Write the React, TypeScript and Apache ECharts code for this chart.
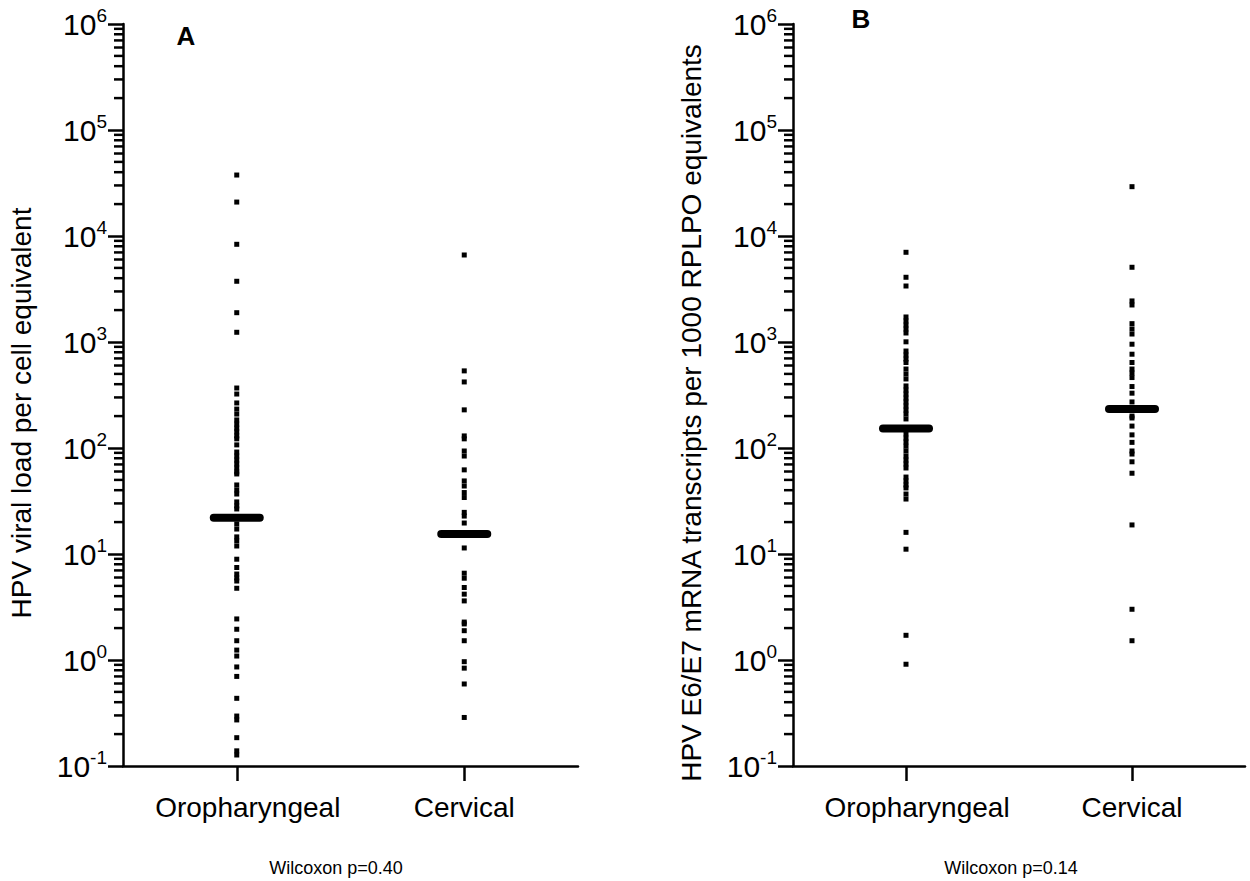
import React, { useEffect, useRef } from "react";
import * as echarts from "echarts";

const categories = ["Oropharyngeal", "Cervical"];

// Panel A: HPV viral load per cell equivalent
const viralLoadOropharyngeal = [37600, 20900, 8350, 3740, 1890, 1235, 368, 323, 266, 233, 209, 184, 168, 154, 142, 130, 122, 107, 91.6, 84, 77, 70.7, 64.8, 59.4, 56.9, 44.8, 40.2, 36.8, 31, 28.4, 26.6, 22, 19.2, 17.2, 14.5, 13.3, 11.9, 8.93, 7.46, 6.47, 5.94, 5.56, 4.75, 2.44, 1.95, 1.52, 1.24, 1.09, 0.86, 0.7, 0.435, 0.296, 0.272, 0.185, 0.139, 0.127];
const viralLoadCervical = [6620, 534, 420, 229, 130, 122, 93.7, 84, 62.2, 48.9, 43.8, 38, 34.1, 24.7, 22.8, 19.6, 15.4, 11.4, 6.59, 5.91, 4.83, 4.18, 3.61, 2.28, 2.19, 1.89, 1.52, 0.964, 0.838, 0.594, 0.287];
const viralLoadMedians = [22.0, 15.4];

// Panel B: HPV E6/E7 mRNA transcripts per 1000 RPLPO equivalents
const mrnaOropharyngeal = [7020, 4080, 3375, 1722, 1578, 1446, 1327, 1216, 1004, 822, 754, 691, 641, 556, 499, 448, 385, 352, 323, 296, 272, 249, 228, 209, 188, 153, 136, 124, 114, 104, 93.7, 84, 77, 70.7, 64.8, 53.2, 48.9, 44.8, 42, 36.8, 33, 16, 11.1, 1.71, 0.912];
const mrnaCervical = [29200, 5070, 2440, 2235, 1490, 1327, 1189, 953, 767, 641, 556, 510, 462, 380, 329, 272, 233, 200, 192, 161, 133, 113, 93.7, 87.7, 74.1, 57.8, 18.8, 3.01, 1.52];
const mrnaMedians = [153, 233];

const yMin = 0.1;
const yMax = 1e6;
const minorTickValues: number[] = [];
for (let k = -1; k <= 5; k++) {
  for (let m = 2; m <= 9; m++) minorTickValues.push(m * Math.pow(10, k));
}

const panelLabels = ["A", "B"];
const yTitles = ["HPV viral load per cell equivalent", "HPV E6/E7 mRNA transcripts per 1000 RPLPO equivalents"];
const footnotes = ["Wilcoxon p=0.40", "Wilcoxon p=0.14"];

const FONT = "Liberation Sans, Arial, sans-serif";

export default function App() {
  const ref = useRef<HTMLDivElement>(null);
  useEffect(() => {
    if (!ref.current) return;
    const chart = echarts.init(ref.current, undefined, { renderer: "svg" });
    const grids = [
      { left: 123, top: 24, width: 455, height: 742 },
      { left: 793, top: 24, width: 452, height: 742 },
    ];
    const xAxis = [0, 1].map((i) => ({
      type: "category",
      gridIndex: i,
      data: categories,
      boundaryGap: true,
      axisLine: { show: true, lineStyle: { color: "#000", width: 2.5 } },
      axisTick: { show: true, alignWithLabel: true, interval: 0, inside: false, length: 15, lineStyle: { color: "#000", width: 2.5 } },
      axisLabel: {
        interval: 0,
        margin: 27,
        color: "#000",
        fontSize: 28,
        fontFamily: FONT,
        formatter: (v: string) => (v === "Oropharyngeal" ? "{o|" + v + "}" : "{c|" + v + "}"),
        rich: {
          o: { fontSize: 28, fontFamily: FONT, color: "#000", padding: [0, 0, 0, 22] },
          c: { fontSize: 28, fontFamily: FONT, color: "#000" },
        },
      },
      splitLine: { show: false },
    }));
    const yAxis = [0, 1].map((i) => ({
      type: "log",
      logBase: 10,
      gridIndex: i,
      min: yMin,
      max: yMax,
      splitNumber: 7,
      axisLine: { show: true, lineStyle: { color: "#000", width: 2.5 } },
      axisTick: { show: true, inside: false, length: 15, lineStyle: { color: "#000", width: 2.5 } },
      axisLabel: {
        margin: 16,
        formatter: (v: number) => "{b|10}{s|" + Math.round(Math.log10(v)) + "}",
        rich: {
          b: { fontSize: 30, fontFamily: FONT, color: "#000", lineHeight: 36 },
          s: { fontSize: 19, fontFamily: FONT, color: "#000", lineHeight: 19, verticalAlign: "top" },
        },
      },
      splitLine: { show: false },
    }));

    const minorSeries = [0, 1].map((i) => ({
      type: "custom",
      xAxisIndex: i,
      yAxisIndex: i,
      silent: true,
      data: minorTickValues.map((v) => [0, v]),
      encode: { x: 0, y: 1 },
      renderItem: (params: any, api: any) => {
        const y = api.coord([0, api.value(1)])[1];
        const x0 = params.coordSys.x;
        return {
          type: "line",
          shape: { x1: x0 - 9, y1: y, x2: x0, y2: y },
          style: { stroke: "#000", lineWidth: 2.5 },
        };
      },
    }));

    const pointSeries = (idx: number, cat: string, vals: number[]) => ({
      type: "scatter",
      xAxisIndex: idx,
      yAxisIndex: idx,
      symbol: "rect",
      symbolSize: 5,
      itemStyle: { color: "#000", opacity: 1 },
      data: vals.map((v) => [cat, v]),
    });
    const medianSymbol = "path://M4,0 H50 A4,4 0 0 1 50,8 H4 A4,4 0 0 1 4,0 Z";
    const medianSeries = (idx: number, meds: number[]) => ({
      type: "scatter",
      xAxisIndex: idx,
      yAxisIndex: idx,
      symbol: medianSymbol,
      symbolSize: [54, 8],
      itemStyle: { color: "#000", opacity: 1 },
      z: 3,
      data: meds.map((v, j) => [categories[j], v]),
    });

    const graphic: any[] = [];
    const titlePos = [
      { x: 21, y: 413 },
      { x: 691, y: 413 },
    ];
    yTitles.forEach((t, i) => {
      graphic.push({
        type: "text",
        x: titlePos[i].x,
        y: titlePos[i].y,
        rotation: Math.PI / 2,
        style: { text: t, fontSize: 28, fontFamily: FONT, fill: "#000", align: "center", verticalAlign: "middle" },
      });
    });
    const labelPos = [
      { x: 186, y: 36 },
      { x: 861, y: 19 },
    ];
    panelLabels.forEach((t, i) => {
      graphic.push({
        type: "text",
        x: labelPos[i].x,
        y: labelPos[i].y,
        style: { text: t, fontSize: 26, fontWeight: "bold", fontFamily: FONT, fill: "#000", align: "center", verticalAlign: "middle" },
      });
    });
    const footPos = [
      { x: 336, y: 868 },
      { x: 1011, y: 868 },
    ];
    footnotes.forEach((t, i) => {
      graphic.push({
        type: "text",
        x: footPos[i].x,
        y: footPos[i].y,
        style: { text: t, fontSize: 18, fontFamily: FONT, fill: "#000", align: "center", verticalAlign: "middle" },
      });
    });

    chart.setOption({
      animation: false,
      backgroundColor: "#fff",
      grid: grids,
      xAxis,
      yAxis,
      graphic,
      series: [
        ...minorSeries,
        pointSeries(0, categories[0], viralLoadOropharyngeal),
        pointSeries(0, categories[1], viralLoadCervical),
        pointSeries(1, categories[0], mrnaOropharyngeal),
        pointSeries(1, categories[1], mrnaCervical),
        medianSeries(0, viralLoadMedians),
        medianSeries(1, mrnaMedians),
      ],
    });
    return () => chart.dispose();
  }, []);
  return (
    <div
      ref={ref}
      style={{ position: "fixed", left: 0, top: 0, width: 1250, height: 881, background: "#fff" }}
    />
  );
}
